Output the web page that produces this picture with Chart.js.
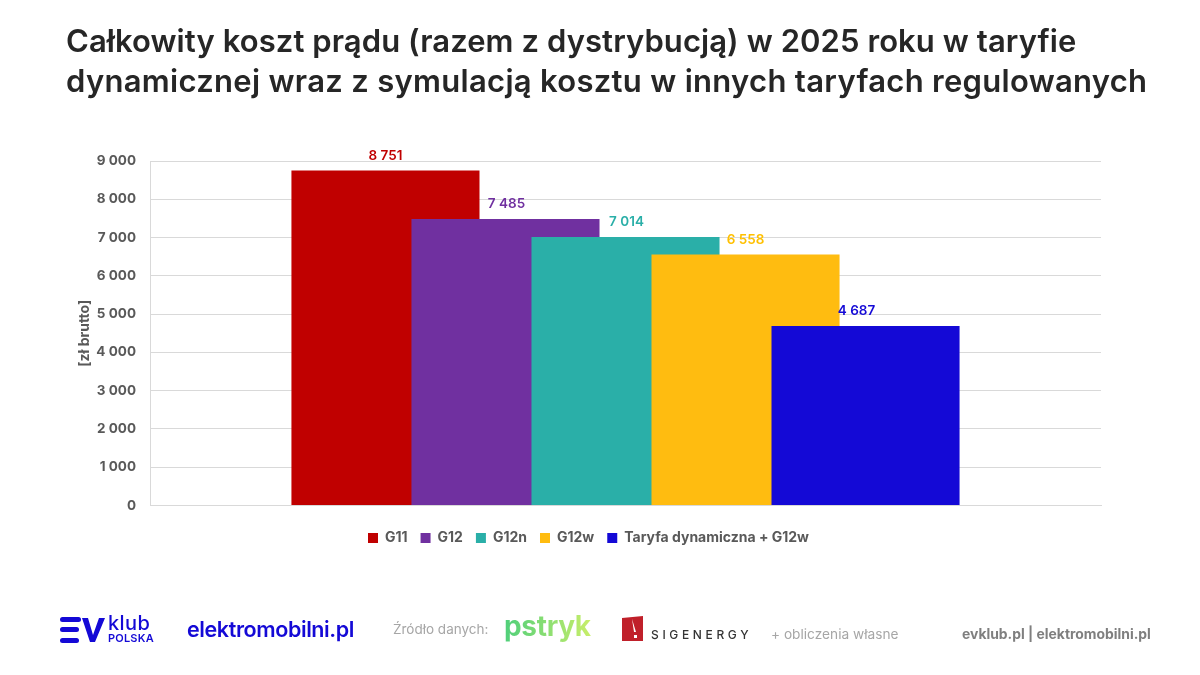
<!DOCTYPE html>
<html lang="pl">
<head>
    <meta charset="UTF-8">
    <title>Całkowity koszt prądu</title>
    <style>
        html, body { margin: 0; padding: 0; background: #fff; }
        body { width: 1200px; height: 675px; position: relative; overflow: hidden; font-family: Inter, sans-serif; }
        #chart { position: absolute; left: 0; top: 0; }
        h1 {
            position: absolute; left: 66px; top: 21px; margin: 0;
            font-size: 31px; line-height: 40px; font-weight: 600; color: #262626; white-space: nowrap;
        }
        .t { position: absolute; white-space: nowrap; }
        svg { position: absolute; }
    </style>
</head>
<body>
    <canvas id="chart" width="1200" height="675"></canvas>
    <h1><span style="letter-spacing:0.08px">Całkowity koszt prądu (razem z dystrybucją) w 2025 roku w taryfie</span><br><span style="letter-spacing:0.3px">dynamicznej wraz z symulacją kosztu w innych taryfach regulowanych</span></h1>

    <!-- logos in the footer -->
    <svg style="left:60px;top:616px" width="46" height="28" viewBox="0 0 46 28">
        <rect x="0" y="1" width="21" height="5" rx="2.5" fill="#1409D6"/>
        <rect x="0" y="11" width="19" height="5" rx="2.5" fill="#1409D6"/>
        <rect x="0" y="22" width="19" height="5" rx="2.5" fill="#1409D6"/>
        <path d="M22 2 L30 26 L35 26 L45 2 L39 2 L33 19 L28 2 Z" fill="#1409D6"/>
    </svg>
    <div class="t" style="left:108px;top:611px;font-size:20px;line-height:24px;font-weight:500;color:#1409D6;letter-spacing:0.4px">klub</div>
    <div class="t" style="left:108px;top:632px;font-size:11px;line-height:13px;font-weight:600;color:#1409D6;letter-spacing:0.2px">POLSKA</div>
    <div class="t" style="left:187px;top:616px;font-size:21.5px;font-weight:600;color:#1409D6;letter-spacing:-0.4px">elektromobilni.pl</div>
    <div class="t" style="left:393px;top:621px;font-size:13.5px;color:#a6a6a6">Źródło danych:</div>
    <div class="t" style="left:504px;top:609px;font-size:28px;font-weight:700;letter-spacing:-0.3px;background:linear-gradient(90deg,#4fcf7a,#c8ee6a);-webkit-background-clip:text;background-clip:text;color:transparent">pstryk</div>
    <svg style="left:621px;top:616px" width="24" height="26" viewBox="0 0 24 26">
        <path d="M1 2 L22 0 L22 25 L1 25 Z" fill="#C0202A"/>
        <path d="M11 3 L15 16 L13 16 Z" fill="#fff"/>
        <rect x="13" y="19" width="3" height="3" fill="#fff"/>
    </svg>
    <div class="t" style="left:651px;top:627px;font-size:12px;font-weight:500;letter-spacing:3.65px;color:#333">SIGENERGY</div>
    <div class="t" style="left:771px;top:626px;font-size:13.7px;color:#a6a6a6">+ obliczenia własne</div>
    <div class="t" style="left:962px;top:626px;font-size:13.9px;font-weight:700;color:#7f7f7f">evklub.pl | elektromobilni.pl</div>

    <script src="https://cdn.jsdelivr.net/npm/chart.js"></script>
    <script>
        const categories = ['2025'];
        const seriesNames = ['G11', 'G12', 'G12n', 'G12w', 'Taryfa dynamiczna + G12w'];
        const seriesValues = [8751, 7485, 7014, 6558, 4687];
        const seriesColors = ['#C00000', '#7030A0', '#2AAFA8', '#FFBC10', '#1409D6'];
        const labelColors = ['#C00000', '#7030A0', '#2AAFA8', '#FFC000', '#1409D6'];
        const labelShift = [0, 1, 1, 0, -9]; // the last label is not centred in the original

        const fmt = v => String(v).replace(/\B(?=(\d{3})+$)/g, ' ');

        // later series sit on top of earlier ones, so draw them in plain order
        const drawInOrder = {
            id: 'drawInOrder',
            beforeDatasetsDraw(chart) {
                chart.getSortedVisibleDatasetMetas().forEach(m => m.controller.draw());
                return false;
            }
        };

        const valueLabels = {
            id: 'valueLabels',
            afterDraw(chart) {
                const c = chart.ctx;
                c.save();
                c.font = '600 13.5px Inter';
                c.textAlign = 'center';
                c.textBaseline = 'middle';
                chart.getSortedVisibleDatasetMetas().forEach(m => {
                    const bar = m.data[0];
                    c.fillStyle = labelColors[m.index];
                    c.fillText(fmt(seriesValues[m.index]), bar.x + labelShift[m.index], bar.y - 15);
                });
                c.restore();
            }
        };

        new Chart(document.getElementById('chart'), {
            type: 'bar',
            data: {
                labels: categories,
                datasets: seriesNames.map((name, i) => ({
                    label: name,
                    data: [seriesValues[i]],
                    backgroundColor: seriesColors[i],
                    barPercentage: 1.567,
                    categoryPercentage: 0.631
                }))
            },
            plugins: [drawInOrder, valueLabels],
            options: {
                responsive: false,
                animation: false,
                devicePixelRatio: 1,
                layout: { padding: { left: 76, right: 99, top: 161, bottom: 120 } },
                plugins: {
                    tooltip: { enabled: false },
                    legend: {
                        position: 'bottom',
                        labels: {
                            boxWidth: 10, boxHeight: 10, padding: 13,
                            color: '#595959',
                            font: { family: 'Inter', size: 14, weight: '700' }
                        }
                    }
                },
                scales: {
                    x: {
                        afterFit: s => { s.height = 12.5; },
                        ticks: { display: false },
                        grid: { display: false },
                        border: { color: '#d9d9d9' }
                    },
                    y: {
                        min: 0, max: 9000,
                        afterFit: s => { s.width = 74; },
                        ticks: {
                            stepSize: 1000,
                            padding: 14,
                            color: '#595959',
                            font: { family: 'Inter', size: 13.5, weight: '700' },
                            callback: v => fmt(v)
                        },
                        grid: { color: '#d9d9d9', drawTicks: false },
                        border: { color: '#d9d9d9' },
                        title: {
                            display: true, text: '[zł brutto]', color: '#595959',
                            padding: 0,
                            font: { family: 'Inter', size: 14, weight: '700' }
                        }
                    }
                }
            }
        });
    </script>
</body>
</html>
